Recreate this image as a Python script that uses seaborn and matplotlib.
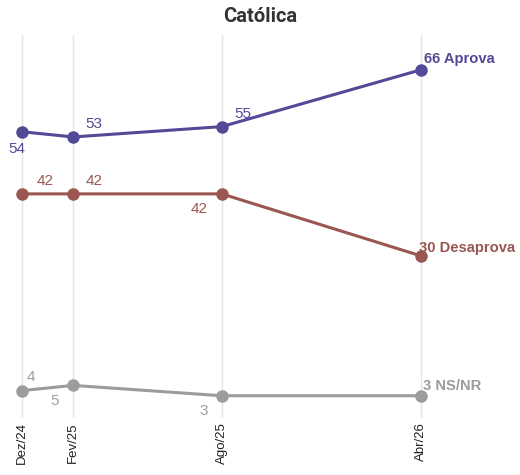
import pandas as pd
import matplotlib.pyplot as plt
import seaborn as sns

# dados
datas = ['2024-12-01', '2025-02-01', '2025-08-01', '2026-04-01']
rotulos = ['Dez/24', 'Fev/25', 'Ago/25', 'Abr/26']
aprova = [54, 53, 55, 66]
desaprova = [42, 42, 42, 30]
nsnr = [4, 5, 3, 3]
series = ['Aprova', 'Desaprova', 'NS/NR']
cores = ['#524a96', '#9a5651', '#9c9c9c']

df = pd.DataFrame({
    'data': pd.to_datetime(datas * 3),
    'valor': aprova + desaprova + nsnr,
    'serie': [s for s in series for _ in datas],
})

sns.set_style('white')
plt.rcParams['font.family'] = ['Liberation Sans', 'DejaVu Sans']

fig = plt.figure(figsize=(5.2, 4.75), dpi=100)
ax = fig.add_axes([10 / 520, 1 - 418 / 475, 500 / 520, 383 / 475])

sns.lineplot(data=df, x='data', y='valor', hue='serie', palette=cores,
             marker='o', markersize=9, markeredgewidth=0, linewidth=2.2,
             legend=False, ax=ax)

x = pd.to_datetime(datas)
ax.set_xlim(x[0] - pd.Timedelta(days=15), x[-1] + pd.Timedelta(days=108))
ax.set_ylim(-1.3, 72.7)
ax.set_xticks(x)
ax.set_xticklabels(rotulos, rotation=90, fontsize=9.5, color='#222222', va='top')
ax.tick_params(axis='x', length=0, pad=3)
ax.set_yticks([])
ax.set_xlabel('')
ax.set_ylabel('')
for d in x:
    ax.axvline(d, color='#e4e4e4', linewidth=1, zorder=0)
sns.despine(ax=ax, left=True, bottom=True)

# rotulos dos pontos: (deslocamento x, y em pt, alinhamento)
pos = {
    'Aprova': [(-4, -7, 'center', 'top'), (9, 4, 'left', 'bottom'), (9, 4, 'left', 'bottom')],
    'Desaprova': [(10, 4, 'left', 'bottom'), (9, 4, 'left', 'bottom'), (-10, -6, 'right', 'top')],
    'NS/NR': [(3, 5, 'left', 'bottom'), (-10, -6, 'right', 'top'), (-10, -6, 'right', 'top')],
}
fim = {'Aprova': (2, 3), 'Desaprova': (-2, 1), 'NS/NR': (1, 2)}
valores = {'Aprova': aprova, 'Desaprova': desaprova, 'NS/NR': nsnr}
for s, c in zip(series, cores):
    v = valores[s]
    for i in range(3):
        dx, dy, ha, va = pos[s][i]
        ax.annotate(str(v[i]), (x[i], v[i]), xytext=(dx, dy), textcoords='offset points',
                    ha=ha, va=va, fontsize=11, color=c)
    ax.annotate(f'{v[3]} {s}', (x[3], v[3]), xytext=fim[s], textcoords='offset points',
                ha='left', va='bottom', fontsize=10.6, fontweight='bold', color=c)

fig.text(0.5, 1 - 17 / 475, 'Católica', ha='center', va='center', fontsize=14.5,
         fontweight='bold', color='#333333', family='Roboto')

fig.savefig('out.png', dpi=100)
